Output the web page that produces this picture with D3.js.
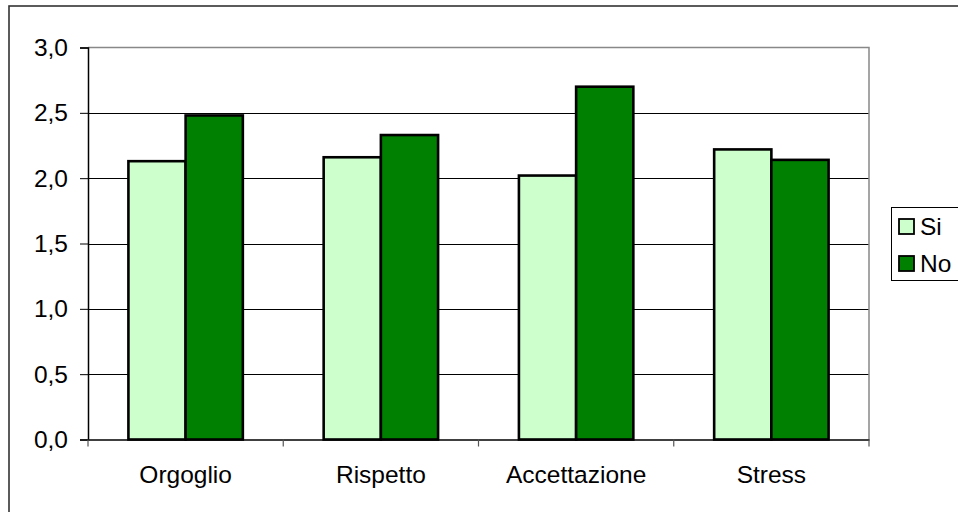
<!DOCTYPE html>
<html>
<head>
<meta charset="utf-8">
<script src="https://cdn.jsdelivr.net/npm/d3@7"></script>
<style>
  html, body { margin: 0; padding: 0; background: #fff; }
  svg { display: block; font-family: "Liberation Sans", Arial, sans-serif; }
</style>
</head>
<body>
<svg id="chart" width="958" height="512"></svg>
<script>
// Mean scores per dimension, split by answer group
const categories = ["Orgoglio", "Rispetto", "Accettazione", "Stress"];
const seriesNames = ["Si", "No"];
const siValues = [2.13, 2.16, 2.02, 2.22];
const noValues = [2.48, 2.33, 2.70, 2.14];
const yTicks = [0, 0.5, 1.0, 1.5, 2.0, 2.5, 3.0];
const colors = { Si: "#CCFFCC", No: "#008000" };

const FONT = "Liberation Sans, Arial, sans-serif";
const FS = 24.5;

const svg = d3.select("#chart");

const plot = { left: 88, right: 869, top: 47.5, bottom: 439.5 };

// outer chart frame
svg.append("rect")
  .attr("x", 9).attr("y", 6)
  .attr("width", 980).attr("height", 540)
  .attr("fill", "none").attr("stroke", "#333").attr("stroke-width", 1.6);

const y = d3.scaleLinear().domain([0, 3]).range([plot.bottom, plot.top]);
const x0 = d3.scaleBand().domain(categories).range([plot.left, plot.right]).padding(0);
const gap = x0.bandwidth() * 0.207;
const x1 = d3.scaleBand().domain(seriesNames).range([gap, x0.bandwidth() - gap]).padding(0);

// gridlines
svg.append("g")
  .selectAll("line")
  .data(yTicks.filter(t => t > 0 && t < 3))
  .join("line")
  .attr("x1", plot.left).attr("x2", plot.right)
  .attr("y1", d => Math.round(y(d)) + 0.5).attr("y2", d => Math.round(y(d)) + 0.5)
  .attr("stroke", "#000").attr("stroke-width", 1);

// plot area border (top and right)
svg.append("path")
  .attr("d", `M${plot.left},${plot.top}H${plot.right}V${plot.bottom}`)
  .attr("fill", "none").attr("stroke", "#888").attr("stroke-width", 1.5);

const rows = categories.map((c, i) => ({ cat: c, Si: siValues[i], No: noValues[i] }));

// bars
const groups = svg.append("g").selectAll("g")
  .data(rows)
  .join("g")
  .attr("transform", d => `translate(${x0(d.cat)},0)`);

groups.selectAll("rect")
  .data(d => seriesNames.map(s => ({ s, v: d[s] })))
  .join("rect")
  .attr("x", d => x1(d.s))
  .attr("width", x1.bandwidth())
  .attr("y", d => y(d.v))
  .attr("height", d => y(0) - y(d.v))
  .attr("fill", d => colors[d.s])
  .attr("stroke", "#000").attr("stroke-width", 2.6);

// y axis
const fmt = v => d3.format(".1f")(v).replace(".", ",");
const yAxis = svg.append("g")
  .attr("transform", `translate(${plot.left},0)`)
  .call(d3.axisLeft(y).tickValues(yTicks).tickFormat(fmt).tickSize(8).tickPadding(12));
yAxis.select(".domain").attr("stroke", "#000").attr("stroke-width", 1.5);
yAxis.selectAll(".tick line").attr("stroke", "#000");
yAxis.selectAll("text").attr("font-size", FS).attr("fill", "#000")
  .attr("font-family", FONT);

// x axis
const xAxis = svg.append("g")
  .attr("transform", `translate(0,${plot.bottom})`)
  .call(d3.axisBottom(x0).tickSize(0).tickPadding(26));
xAxis.select(".domain").attr("stroke", "#000").attr("stroke-width", 1.5);
xAxis.selectAll("text").attr("font-size", FS).attr("fill", "#000")
  .attr("font-family", FONT);

// category boundary ticks
const boundaries = categories.map(c => x0(c)).concat([x0.range()[1]]);
svg.append("g").selectAll("line")
  .data(boundaries)
  .join("line")
  .attr("x1", d => d).attr("x2", d => d)
  .attr("y1", plot.bottom).attr("y2", plot.bottom + 7)
  .attr("stroke", "#555").attr("stroke-width", 1.2);

// legend
const legend = svg.append("g");
legend.append("rect")
  .attr("x", 891.5).attr("y", 207.5)
  .attr("width", 80).attr("height", 73)
  .attr("fill", "#fff").attr("stroke", "#000").attr("stroke-width", 1);
const items = legend.selectAll("g.item")
  .data(seriesNames)
  .join("g")
  .attr("class", "item")
  .attr("transform", (d, i) => `translate(899,${219 + i * 37})`);
items.append("rect")
  .attr("width", 15).attr("height", 15)
  .attr("fill", d => colors[d])
  .attr("stroke", "#000").attr("stroke-width", 1.8);
items.append("text")
  .attr("x", 21).attr("y", 16)
  .attr("font-size", FS)
  .attr("font-family", FONT)
  .text(d => d);
</script>
</body>
</html>
